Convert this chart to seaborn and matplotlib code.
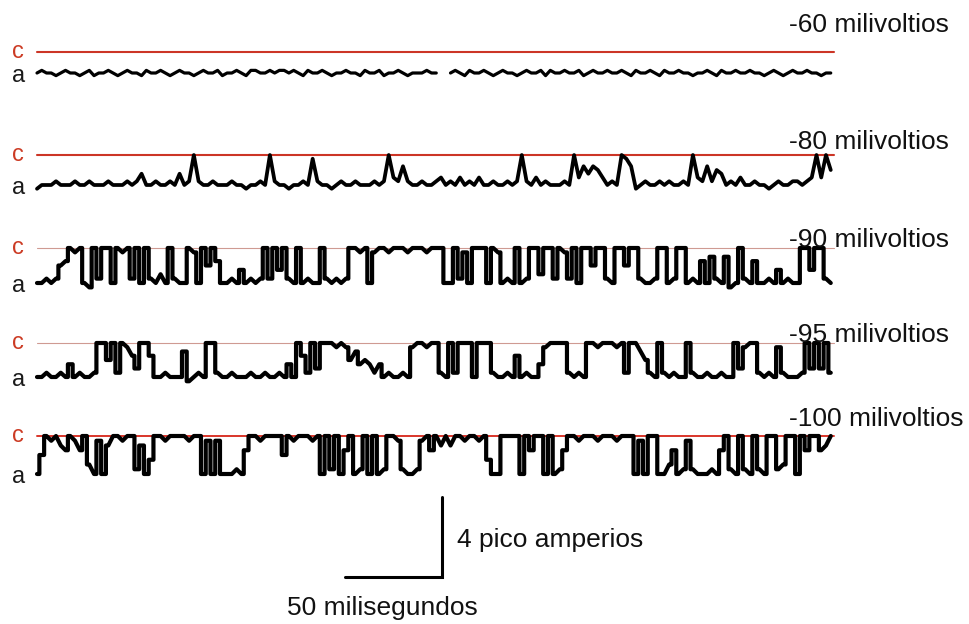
import numpy as np
import pandas as pd
import matplotlib
matplotlib.use("Agg")
import matplotlib.pyplot as plt
import seaborn as sns

# ---------------- data ----------------
voltage_labels = ["-60 milivoltios", "-80 milivoltios", "-90 milivoltios",
                  "-95 milivoltios", "-100 milivoltios"]
closed_label = "c"
open_label = "a"
scale_time_label = "50 milisegundos"
scale_current_label = "4 pico amperios"
scale_time_ms = 50
scale_current_pA = 4
record_ms = 411
sample_interval_ms = 2.45

# single-channel amplitude per holding potential (pA)
unit_current_pA = [1.05, 1.5, 1.75, 1.7, 1.9]

# level codes every sample: 1 = "a" level, 9 = "c" level, '-' = gap in trace
trace_m60 = "".join(["1211012110", "1201121012", "1102112101", "2110121120",
                     "1121022112", "1221210211", "2101121102", "1120112101",
                     "11211--121", "0211210121", "1012112021", "1211201211",
                     "2112102112", "1021121101", "1210211211", "2110121012",
                     "11211011"])
trace_m80 = "".join(["0111211121", "1211121112", "1241121121", "4129211211",
                     "1211011219", "2110112182", "1101211211", "1212932621",
                     "1211231213", "1213112112", "1292131211", "1219364653",
                     "1219860121", "1212112193", "2625412131", "1211012112",
                     "21239395"])
trace_m90 = "".join(["1121256989", "1092991989", "2919213192", "1198195961",
                     "1214121292", "9492191211", "9212129989", "1899899989",
                     "9989991192", "8199919812", "1912993992", "9829199599",
                     "2199599211", "2991299121", "6172170192", "1611214121",
                     "19949921"])
trace_m95 = "".join(["1121121412", "1129959298", "6399611211", "1701219921",
                     "1211121121", "1214196293", "9998985745", "4241211218",
                     "9989921929", "9919992112", "1612114899", "9921219989",
                     "9989299752", "1921211921", "1211211938", "9921218211",
                     "12939392"])
trace_m100 = "".join(["1598976986", "9318179989", "9271499899", "9989918181",
                      "1121699899", "9959899989", "1929169129", "1912998211",
                      "2896979799", "8998941199", "9919699191", "2699899989",
                      "9989991819", "9113612821", "1121692192", "1921992399",
                      "19699679"])
traces = [trace_m60, trace_m80, trace_m90, trace_m95, trace_m100]

# ---------------- layout ----------------
px_per_ms = 1.94
px_per_pA = 20.0
trace_left_px = 37
closed_level_px = [52, 155, 248, 343, 436]
voltage_baseline_px = [32, 149, 247, 342, 426]
voltage_left_px = 789
label_left_px = 12
c_colors = ["#cc3526", "#cc3526", "#cf9a92", "#cf9a92", "#d9352a"]
c_widths = [1.5, 1.5, 0.8, 0.8, 1.4]
trace_widths = [2.3, 2.7, 3.0, 3.0, 3.0]
sharp_edges = [False, False, True, True, True]   # draw big jumps as vertical edges
label_red = "#cc3b24"

def tx(px):
    return (px - trace_left_px) / px_per_ms

def ty(px):
    return -px / px_per_pA

sns.set_theme(style="white")
plt.rcParams["font.family"] = ["Liberation Sans", "DejaVu Sans"]

fig = plt.figure(figsize=(9.69, 6.24), dpi=100)
ax = fig.add_axes([0, 0, 1, 1])
ax.set_xlim(tx(0), tx(969))
ax.set_ylim(ty(624), ty(0))
ax.axis("off")

# build trace table (vertices derived from the sampled levels)
records = []
for k, s in enumerate(traces):
    c_pA = ty(closed_level_px[k])
    amp = unit_current_pA[k]
    seg = 0
    prev = None
    for i, ch in enumerate(s):
        if ch == "-":
            seg += 1
            prev = None
            continue
        d = int(ch)
        t = i * sample_interval_ms
        level = c_pA - amp * (9 - d) / 8.0
        if sharp_edges[k] and prev is not None and abs(d - prev[0]) >= 3:
            tm = t - sample_interval_ms / 2
            records.append({"row": k, "seg": f"{k}-{seg}", "t": tm, "I": prev[1]})
            records.append({"row": k, "seg": f"{k}-{seg}", "t": tm, "I": level})
        records.append({"row": k, "seg": f"{k}-{seg}", "t": t, "I": level})
        prev = (d, level)
df = pd.DataFrame(records)

for k in range(len(traces)):
    c_pA = ty(closed_level_px[k])
    a_pA = c_pA - unit_current_pA[k]
    # closed reference line
    ref = pd.DataFrame({"t": [0, record_ms], "I": [c_pA, c_pA]})
    sns.lineplot(data=ref, x="t", y="I", color=c_colors[k], linewidth=c_widths[k],
                 ax=ax, legend=False)
    # current trace
    sub = df[df["row"] == k]
    sns.lineplot(data=sub, x="t", y="I", units="seg", estimator=None, sort=False,
                 color="black", linewidth=trace_widths[k], ax=ax, legend=False,
                 solid_joinstyle="round", solid_capstyle="round")
    # c / a labels
    ax.text(tx(label_left_px), c_pA - 6 / px_per_pA, closed_label, color=label_red,
            fontsize=17, ha="left", va="baseline")
    ax.text(tx(label_left_px), a_pA - 8.5 / px_per_pA, open_label, color="#1a1a1a",
            fontsize=17, ha="left", va="baseline")
    ax.text(tx(voltage_left_px), ty(voltage_baseline_px[k]), voltage_labels[k],
            color="#111111", fontsize=19, ha="left", va="baseline")

# scale bar
corner_t = tx(442)
corner_I = ty(577)
ax.plot([corner_t - scale_time_ms, corner_t, corner_t],
        [corner_I, corner_I, corner_I + scale_current_pA],
        color="black", linewidth=2.2, solid_joinstyle="miter")
ax.text(tx(457), ty(547), scale_current_label, fontsize=19, color="#111111",
        ha="left", va="baseline")
ax.text(tx(287), ty(615), scale_time_label, fontsize=19, color="#111111",
        ha="left", va="baseline")

fig.savefig("out.png", dpi=100, facecolor="white")
